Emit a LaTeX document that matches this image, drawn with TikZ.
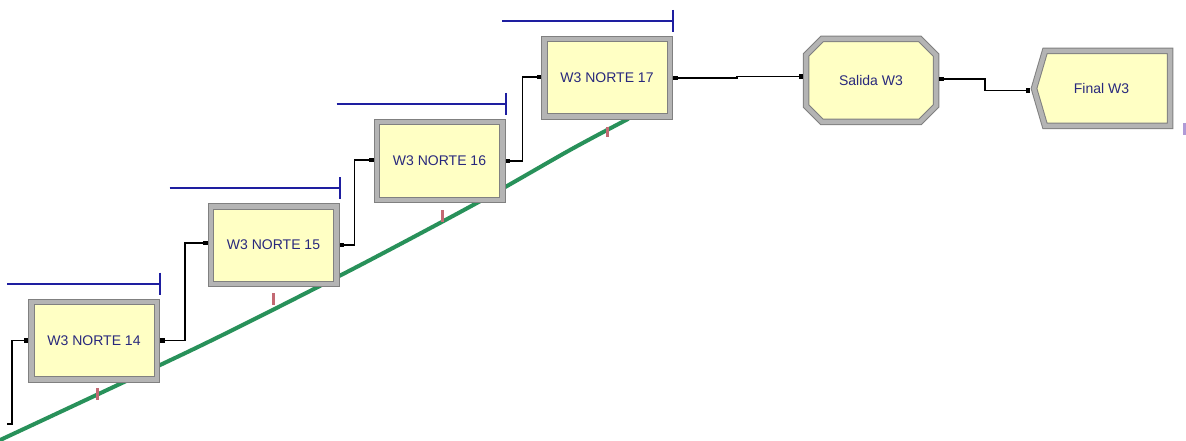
\documentclass[tikz,border=0pt]{standalone}
\usepackage{fontspec}
\setmainfont{Liberation Sans}
\usetikzlibrary{calc}

\definecolor{boxfill}{RGB}{255,255,196}
\definecolor{frameedge}{RGB}{128,128,128}
\definecolor{frameband}{RGB}{180,180,180}
\definecolor{labelblue}{RGB}{40,40,125}
\definecolor{queueblue}{RGB}{30,30,160}
\definecolor{routegreen}{RGB}{40,145,90}
\definecolor{markred}{RGB}{195,105,115}
\definecolor{markviolet}{RGB}{175,155,215}

\tikzset{
  frame/.style={draw=frameedge, double=frameband, double distance=4.5pt,
                line width=1pt, fill=boxfill, line join=miter},
  procbox/.style={frame, rectangle, minimum width=125.5pt, minimum height=77.5pt,
                  inner sep=0pt, outer sep=3.25pt,
                  font=\fontsize{14}{16}\selectfont, text=labelblue},
  caption/.style={rectangle, inner sep=0pt, outer sep=0pt,
                  font=\fontsize{14}{16}\selectfont, text=labelblue},
  link/.style={draw=black, line width=1.3pt},
  queue/.style={draw=queueblue, line width=2pt},
  route/.style={draw=routegreen, line width=4pt, line cap=round},
  port/.style={fill=black, rectangle, minimum size=4.5pt, inner sep=0pt, outer sep=0pt}
}

\begin{document}
\begin{tikzpicture}[x=1pt,y=-1pt]
  \useasboundingbox (0,0) rectangle (1186,441);
  \fill[white] (0,0) rectangle (1186,441);

  % conveyor route running under the stations
  \draw[route] plot[smooth] coordinates
    {(-2,441) (200,346) (347,272) (475,204) (570,150) (628,119)};

  % process stations
  \node[procbox] (n14) at (94,340.5) {W3 NORTE 14};
  \node[procbox] (n15) at (273.5,245) {W3 NORTE 15};
  \node[procbox] (n16) at (439.5,161) {W3 NORTE 16};
  \node[procbox] (n17) at (607,78) {W3 NORTE 17};

  % queue bars above each station
  \foreach \b/\off in {n14/21,n15/38,n16/37,n17/39}{
    \draw[queue] ($(\b.north west)+(-\off,-15)$) -- ($(\b.north east)+(0,-15)$);
    \draw[queue] ($(\b.north east)+(0,-26)$) -- ($(\b.north east)+(0,-4)$);
  }

  % small animation markers along the route
  \fill[markred] (95.5,388) rectangle (98.5,400);
  \fill[markred] (271.5,293) rectangle (274.5,305);
  \fill[markred] (440.5,210) rectangle (443.5,222);
  \fill[markred] (605.5,127) rectangle (608.5,137);

  % exit station (octagon)
  \coordinate (salc) at (871,80.5);
  \draw[frame] ($(salc)+(-49,-41.5)$) -- ($(salc)+(49,-41.5)$)
    -- ($(salc)+(65,-25.5)$) -- ($(salc)+(65,25.5)$)
    -- ($(salc)+(49,41.5)$) -- ($(salc)+(-49,41.5)$)
    -- ($(salc)+(-65,25.5)$) -- ($(salc)+(-65,-25.5)$) -- cycle;
  \node[caption, minimum width=136pt, minimum height=89pt] (sal) at (salc) {Salida W3};

  % final station (chevron on the left)
  \coordinate (finc) at (1101.5,88.5);
  \draw[frame] ($(finc)+(-67.5,0)$) -- ($(finc)+(-56.5,-37.5)$)
    -- ($(finc)+(68.5,-37.5)$) -- ($(finc)+(68.5,37.5)$)
    -- ($(finc)+(-56.5,37.5)$) -- cycle;
  \node[caption, minimum width=143pt, minimum height=81pt] (fin) at (finc) {Final W3};
  \fill[markviolet] (1183,123) rectangle (1186,135);

  % connectors
  \coordinate (src) at (7,424);
  \draw[link] (src) -- (12,424) |- (n14.west);
  \draw[link] (n14.east) -- ++(25,0) |- ($(n15.west)+(0,-2)$);
  \draw[link] (n15.east) -- ++(15,0) |- ($(n16.west)+(0,-1)$);
  \draw[link] (n16.east) -- ++(17,0) |- ($(n17.west)+(0,-1)$);
  \draw[link] (n17.east) -- ++(64,0) |- ($(sal.west)+(0,-4)$);
  \draw[link] ($(sal.east)+(0,-1.5)$) -- ++(46,0) |- ($(fin.west)+(0,2)$);

  % connection ports
  \node[port, anchor=east] (i14) at (n14.west) {};
  \node[port, anchor=west] (o14) at (n14.east) {};
  \node[port, anchor=east] (i15) at ($(n15.west)+(0,-2)$) {};
  \node[port, anchor=west] (o15) at (n15.east) {};
  \node[port, anchor=east] (i16) at ($(n16.west)+(0,-1)$) {};
  \node[port, anchor=west] (o16) at (n16.east) {};
  \node[port, anchor=east] (i17) at ($(n17.west)+(0,-1)$) {};
  \node[port, anchor=west] (o17) at (n17.east) {};
  \node[port, anchor=east] (isal) at ($(sal.west)+(0,-4)$) {};
  \node[port, anchor=west] (osal) at ($(sal.east)+(0,-1.5)$) {};
  \node[port, anchor=east] (ifin) at ($(fin.west)+(0,2)$) {};
\end{tikzpicture}
\end{document}
